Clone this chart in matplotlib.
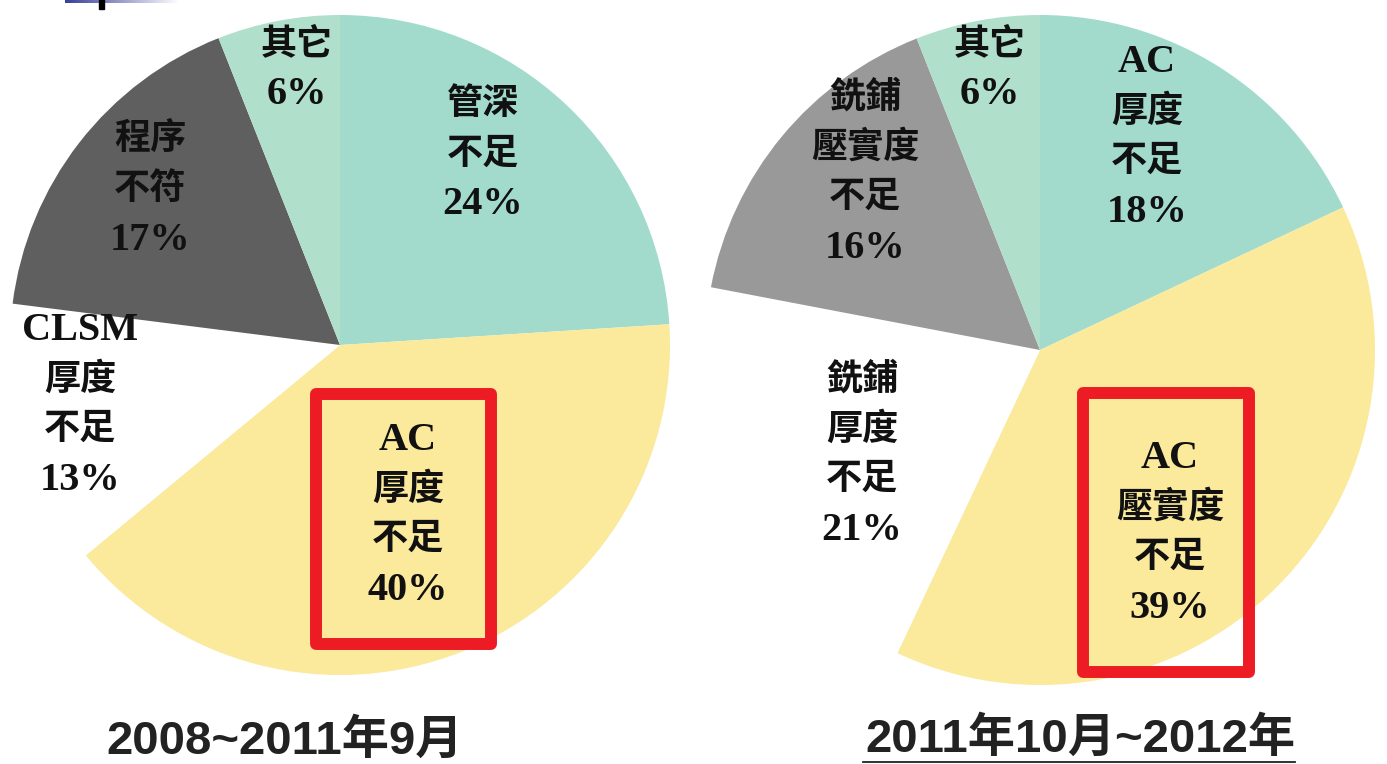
import numpy as np
import matplotlib
matplotlib.use('Agg')
import matplotlib.pyplot as plt
from matplotlib.patches import Rectangle

# data
left_names = ['管深\n不足', 'AC\n厚度\n不足', 'CLSM\n厚度\n不足', '程序\n不符', '其它']
left_pcts = [24, 40, 13, 17, 6]
left_colors = ['#a2dbcc', '#fbe99c', '#ffffff', '#5f5f5f', '#b0dfcb']
left_title = '2008~2011年9月'

right_names = ['AC\n厚度\n不足', 'AC\n壓實度\n不足', '銑鋪\n厚度\n不足', '銑鋪\n壓實度\n不足', '其它']
right_pcts = [18, 39, 21, 16, 6]
right_colors = ['#a2dbcc', '#fbe99c', '#ffffff', '#999999', '#b0dfcb']
right_title = '2011年10月~2012年'

# layout (pixel coords, y from top)
W, H = 1387, 764
left_center, left_r = (340, 345), 330
right_center, right_r = (1040, 350), 335
left_label_xy = [(483, 105), (408, 440), (80, 330), (150, 140), (297, 45)]
right_label_xy = [(1147, 62), (1170, 458), (862, 380), (865, 98), (990, 45)]
line_step = 50

label_font = ['Liberation Serif', 'Noto Sans CJK TC']
title_font = ['Liberation Sans', 'Noto Sans CJK TC']

fig = plt.figure(figsize=(W / 100, H / 100), dpi=100)
ax = fig.add_axes([0, 0, 1, 1])


def draw_pie(pcts, colors, names, center, r, label_xy):
    cx, cy = center
    ax.pie(pcts, colors=colors, startangle=90, counterclock=False,
           center=(cx, H - cy), radius=r, wedgeprops=dict(linewidth=0),
           frame=True)
    for name, p, (x, y) in zip(names, pcts, label_xy):
        lines = name.split('\n') + [f'{p}%']
        for i, ln in enumerate(lines):
            latin = ln.isascii()
            ax.text(x, H - (y + i * line_step), ln, ha='center', va='center',
                    fontsize=29 if latin else 26, fontweight='bold',
                    family=label_font, color='#111111')


draw_pie(left_pcts, left_colors, left_names, left_center, left_r, left_label_xy)
draw_pie(right_pcts, right_colors, right_names, right_center, right_r, right_label_xy)

# red highlight boxes
for x0, y0, x1, y1 in [(316, 394, 491, 644), (1083, 393, 1249, 672)]:
    ax.add_patch(Rectangle((x0, H - y1), x1 - x0, y1 - y0, fill=False,
                           edgecolor='#ed1c24', linewidth=8.6,
                           joinstyle='round', zorder=5))

# titles
ax.text(285, H - 742, left_title, ha='center', va='center', fontsize=34,
        fontweight='bold', family=title_font, color='#222222')
ax.text(1080, H - 740, right_title, ha='center', va='center', fontsize=34,
        fontweight='bold', family=title_font, color='#222222')
ax.plot([863, 1295], [H - 762, H - 762], color='#222222', lw=1.3)

# top-left decorative fragment
grad = np.linspace(0, 1, 100).reshape(1, -1)
cmap = matplotlib.colors.LinearSegmentedColormap.from_list('b', ['#3a3f9a', '#ffffff'])
ax.imshow(grad, extent=(65, 180, H - 3, H), cmap=cmap, aspect='auto', zorder=6)
ax.add_patch(Rectangle((99, H - 9), 5, 9, color='black', zorder=7))

ax.set_xlim(0, W)
ax.set_ylim(0, H)
ax.set_aspect('equal')
ax.axis('off')

fig.savefig('out.png', dpi=100)
